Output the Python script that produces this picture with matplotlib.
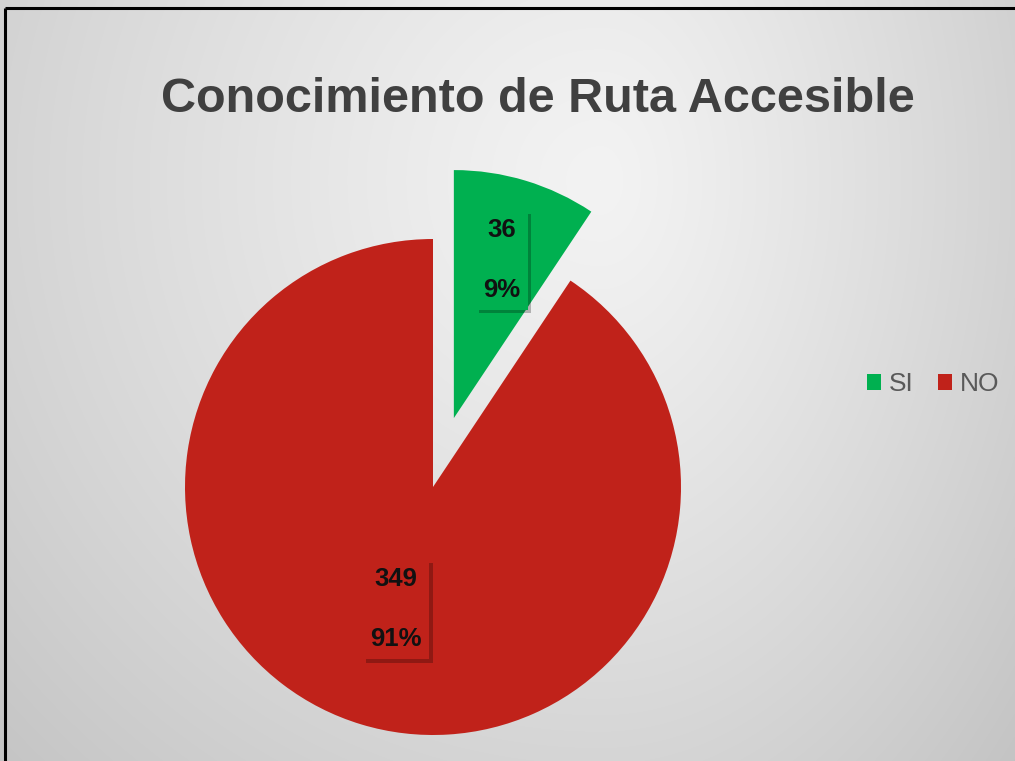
import numpy as np
import matplotlib.pyplot as plt
import matplotlib.patheffects as pe
from matplotlib.patches import Patch
from matplotlib.lines import Line2D

plt.rcParams['font.family'] = ['Liberation Sans', 'DejaVu Sans']

title = 'Conocimiento de Ruta Accesible'
categories = ['SI', 'NO']
counts = [36, 349]
colors = ['#00B050', '#C0221A']

W, H = 1015, 761
fig = plt.figure(figsize=(W / 100, H / 100), dpi=100)

# background: soft grey gradient, lighter near the title
yy, xx = np.mgrid[0:H, 0:W].astype(float)
dx = (xx - 600) / np.where(xx < 600, 600.0, 400.0)
dy = (yy - 180) / 600.0
d = np.sqrt(dx ** 2 + dy ** 2)
v = np.clip(243 - 31 * d ** 1.2, 195, 245) / 255.0
img = np.dstack([v, v, v])
fig.figimage(img, 0, 0, origin='upper', zorder=-10)

# black frame on top and left (cropped screenshot)
fig.add_artist(Line2D([5 / W, 5 / W], [0, 1 - 8 / H], color='black', lw=2.2,
                      transform=fig.transFigure, solid_capstyle='butt'))
fig.add_artist(Line2D([5 / W, 1], [1 - 8 / H, 1 - 8 / H], color='black', lw=2.2,
                      transform=fig.transFigure, solid_capstyle='butt'))

# pie axes in pixel units
ax = fig.add_axes([0, 0, 1, 1])
ax.set_zorder(1)
ax.patch.set_visible(False)
cx, cy, r = 433, H - 487, 248
wedges, _ = ax.pie(counts, colors=colors, startangle=90, counterclock=False,
                   radius=r, center=(cx, cy), explode=[72, 0], frame=True)
ax.set_xlim(0, W)
ax.set_ylim(0, H)
ax.set_aspect('auto')
ax.axis('off')

total = sum(counts)
label_dist = [0.665, 0.515]
for w, n, col, ld in zip(wedges, counts, colors, label_dist):
    tm = np.deg2rad((w.theta1 + w.theta2) / 2)
    wx, wy = w.center
    lx = wx + ld * r * np.cos(tm)
    ly = wy + ld * r * np.sin(tm)
    pct = round(100 * n / total)
    t = ax.text(lx, ly, f'{n}\n\n{pct}%', ha='center', va='center',
                multialignment='center', fontsize=18.5, fontweight='bold',
                color='#111111', linespacing=1.32,
                bbox=dict(boxstyle='square,pad=0.3', fc=col, ec='none'))
    t.get_bbox_patch().set_path_effects([
        pe.SimplePatchShadow(offset=(2.5, -2.5), shadow_rgbFace='black', alpha=0.25),
        pe.Normal()])

fig.text(538 / W, 1 - 100 / H, title, ha='center', va='center',
         fontsize=35, fontweight='bold', color='#404040')

handles = [Patch(facecolor=c, edgecolor='none') for c in colors]
fig.legend(handles, categories, loc='center left', bbox_to_anchor=(843 / W, 1 - 384 / H),
           ncol=2, frameon=False, fontsize=19, handlelength=0.55, handleheight=0.55,
           handletextpad=0.3, columnspacing=0.9, labelcolor='#595959')

fig.savefig('out.png', dpi=100)
